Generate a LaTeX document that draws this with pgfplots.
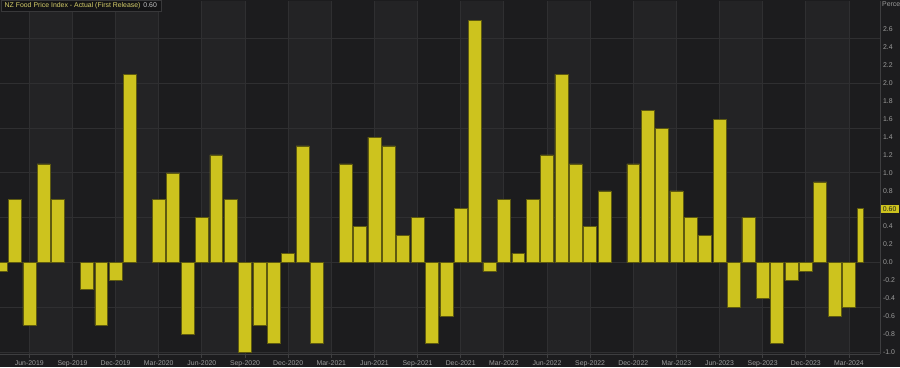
\documentclass[border=0pt]{standalone}
\usepackage{pgfplots}
\pgfplotsset{compat=1.18}
\usepackage{pgfplotstable}
\usepackage{fontspec}
\setmainfont{Liberation Sans}
\definecolor{bgdark}{HTML}{1C1C1E}
\definecolor{bglight}{HTML}{232325}
\definecolor{gridc}{HTML}{2F2F31}
\definecolor{axisc}{HTML}{3E3E40}
\definecolor{tickc}{HTML}{9C9C9C}
\definecolor{barfill}{HTML}{CDC31E}
\definecolor{barline}{HTML}{5E5A10}
\definecolor{legtext}{HTML}{D6CE6A}
\definecolor{legval}{HTML}{C4C4C4}
\definecolor{legbg}{HTML}{141416}
\definecolor{legborder}{HTML}{38383A}
\pagecolor{bgdark}

% month index: 0 = Jun-2019 (zero months omitted)
\pgfplotstableread{
m v
-2 -0.1
-1 0.7
0 -0.7
1 1.1
2 0.7
4 -0.3
5 -0.7
6 -0.2
7 2.1
9 0.7
10 1.0
11 -0.8
12 0.5
13 1.2
14 0.7
15 -1.0
16 -0.7
17 -0.9
18 0.1
19 1.3
20 -0.9
22 1.1
23 0.4
24 1.4
25 1.3
26 0.3
27 0.5
28 -0.9
29 -0.6
30 0.6
31 2.7
32 -0.1
33 0.7
34 0.1
35 0.7
36 1.2
37 2.1
38 1.1
39 0.4
40 0.8
42 1.1
43 1.7
44 1.5
45 0.8
46 0.5
47 0.3
48 1.6
49 -0.5
50 0.5
51 -0.4
52 -0.9
53 -0.2
54 -0.1
55 0.9
56 -0.6
57 -0.5
}\foodtable

\begin{document}
\begin{tikzpicture}[x=1pt,y=1pt,font=\fontsize{6.9}{8}\selectfont]
\begin{axis}[
  at={(0,14)}, anchor=south west,
  width=880pt, height=353pt, scale only axis,
  xmin=-2.04, xmax=59.16, ymin=-1.027, ymax=2.913,
  set layers,
  axis background/.style={fill=bgdark},
  axis x line*=bottom, axis y line*=right,
  axis line style={draw=axisc, line width=0.8pt, -},
  tick align=outside,
  major tick length=4pt,
  xtick={0,3,...,57},
  xticklabels={Jun-2019,Sep-2019,Dec-2019,Mar-2020,Jun-2020,Sep-2020,Dec-2020,Mar-2021,Jun-2021,Sep-2021,Dec-2021,Mar-2022,Jun-2022,Sep-2022,Dec-2022,Mar-2023,Jun-2023,Sep-2023,Dec-2023,Mar-2024},
  xmajorgrids,
  major grid style={draw=gridc, line width=0.8pt},
  x tick style={draw=axisc, line width=0.8pt},
  xticklabel style={text=tickc, font=\fontsize{6.9}{8}\selectfont, yshift=1pt},
  ytick={-1,-0.8,-0.6,-0.4,-0.2,0,0.2,0.4,0.8,1.0,1.2,1.4,1.6,1.8,2.0,2.2,2.4,2.6},
  yticklabels={-1.0,-0.8,-0.6,-0.4,-0.2,0.0,0.2,0.4,0.8,1.0,1.2,1.4,1.6,1.8,2.0,2.2,2.4,2.6},
  y tick style={draw=none},
  yticklabel style={text=tickc, anchor=west, font=\fontsize{6.9}{8}\selectfont, xshift=-4.5pt},
  extra y ticks={-1,-0.5,0,0.5,1,1.5,2,2.5},
  extra y tick labels={},
  extra y tick style={grid=major},
]
\begin{pgfonlayer}{axis background}
\fill[bglight] (axis cs:0,-1.027) rectangle (axis cs:3,2.913);
\fill[bglight] (axis cs:6,-1.027) rectangle (axis cs:9,2.913);
\fill[bglight] (axis cs:12,-1.027) rectangle (axis cs:15,2.913);
\fill[bglight] (axis cs:18,-1.027) rectangle (axis cs:21,2.913);
\fill[bglight] (axis cs:24,-1.027) rectangle (axis cs:27,2.913);
\fill[bglight] (axis cs:30,-1.027) rectangle (axis cs:33,2.913);
\fill[bglight] (axis cs:36,-1.027) rectangle (axis cs:39,2.913);
\fill[bglight] (axis cs:42,-1.027) rectangle (axis cs:45,2.913);
\fill[bglight] (axis cs:48,-1.027) rectangle (axis cs:51,2.913);
\fill[bglight] (axis cs:54,-1.027) rectangle (axis cs:57,2.913);
\end{pgfonlayer}
\addplot[ybar, bar width=0.9, bar shift=0, fill=barfill, draw=barline, line width=0.5pt] table[x=m, y=v] {\foodtable};
\addplot[ybar, bar width=0.45, bar shift=-0.225, fill=barfill, draw=barline, line width=0.5pt] coordinates {(58,0.6)};
\coordinate (hl) at (axis cs:59.16,0.6);
\end{axis}
\node[fill=barfill, text=black!88, inner xsep=2.2pt, inner ysep=1.6pt, anchor=west] at ([xshift=0.5pt]hl) {0.60};
\node[anchor=north west, fill=legbg, draw=legborder, line width=0.5pt, inner xsep=4pt, inner ysep=1.8pt] at (0.5,366.5) {\textcolor{legtext}{NZ Food Price Index - Actual (First Release)}\hspace{3pt}\textcolor{legval}{0.60}\hspace{8pt}};
\node[anchor=north west, inner sep=0pt, text=tickc] at (882,365) {Percent};
\pgfresetboundingbox
\useasboundingbox (0,0) rectangle (900,367);
\end{tikzpicture}
\end{document}
